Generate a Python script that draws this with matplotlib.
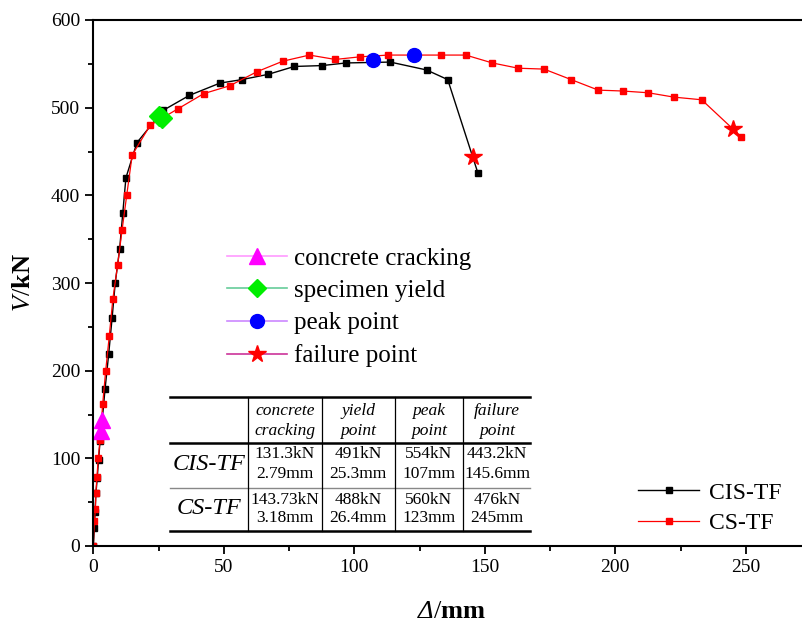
import matplotlib.pyplot as plt
from matplotlib.lines import Line2D

plt.rcParams['font.family'] = ['Liberation Serif', 'DejaVu Serif']
plt.rcParams['mathtext.fontset'] = 'custom'
plt.rcParams['mathtext.rm'] = 'Liberation Serif'
plt.rcParams['mathtext.it'] = 'Liberation Serif:italic'
plt.rcParams['mathtext.bf'] = 'Liberation Serif:bold'

# skeleton curves (displacement mm, load kN)
cis_x = [0, 0.4, 0.65, 1.0, 1.5, 2.0, 2.6, 3.3, 4.5, 5.9, 7.2, 8.4, 10.1, 11.3, 12.5,
         16.7, 26.8, 36.8, 48.5, 56.9, 67.0, 77.0, 87.6, 96.8, 113.8, 127.7, 135.8, 147.3]
cis_v = [0, 20, 39, 60, 77, 98, 120, 140, 179, 219, 260, 300, 339, 380, 420,
         460, 497, 514, 528, 532, 538, 547, 548, 551, 552, 543, 532, 426]
cs_x = [0, 0.4, 0.8, 1.0, 1.4, 1.9, 2.6, 3.6, 4.75, 6.1, 7.5, 9.3, 11.0, 12.8, 14.9,
        21.8, 32.6, 42.3, 52.3, 62.7, 72.6, 82.8, 92.7, 102.2, 113.0, 133.1, 142.7,
        152.9, 162.8, 172.7, 183.1, 193.5, 202.8, 212.6, 222.5, 233.1, 248.2]
cs_v = [0, 28, 42, 61, 79, 100, 121, 162, 200, 239, 282, 320, 360, 400, 446,
        480, 499, 516, 525, 541, 553, 560, 555, 558, 560, 560, 560,
        551, 545, 544, 532, 520, 519, 517, 512, 509, 467]

# characteristic points
crack_x = [2.79, 3.18]
crack_v = [131.3, 143.73]
yield_x = [25.3, 26.4]
yield_v = [491, 488]
peak_x = [107, 123]
peak_v = [554, 560]
fail_x = [145.6, 245]
fail_v = [443.2, 476]

# table contents
col_heads = ["concrete\ncracking", "yield\npoint", "peak\npoint", "failure\npoint"]
row_heads = ["CIS-TF", "CS-TF"]
cells = [["131.3kN\n2.79mm", "491kN\n25.3mm", "554kN\n107mm", "443.2kN\n145.6mm"],
         ["143.73kN\n3.18mm", "488kN\n26.4mm", "560kN\n123mm", "476kN\n245mm"]]

W, H = 803, 631
fig = plt.figure(figsize=(W / 100, H / 100), dpi=100)
ax = fig.add_axes([93.3 / W, 85 / H, 280 * 2.61 / W, 526 / H])

ax.plot(cis_x, cis_v, color='black', lw=1, marker='s', ms=5, label='CIS-TF')
ax.plot(cs_x, cs_v, color='red', lw=0.9, marker='s', ms=5, label='CS-TF')

ax.plot(crack_x, crack_v, ls='none', marker='^', ms=11, color='#ff00ff')
ax.plot(yield_x, yield_v, ls='none', marker='D', ms=10, color='#00ee00')
ax.plot(peak_x, peak_v, ls='none', marker='o', ms=10, color='#0000ff')
ax.plot(fail_x, fail_v, ls='none', marker='*', ms=13, color='#ff0000')

ax.set_xlim(0, 280)
ax.set_ylim(0, 600)
ax.set_xticks([0, 50, 100, 150, 200, 250])
ax.set_xticks([25, 75, 125, 175, 225, 275], minor=True)
ax.set_yticks([0, 100, 200, 300, 400, 500, 600])
ax.set_yticks([50, 150, 250, 350, 450, 550], minor=True)
ax.tick_params(which='major', direction='out', length=6, width=1.3, labelsize=14)
ax.tick_params(which='minor', direction='out', length=3.5, width=1.3)
ax.tick_params(top=False, right=False)
for s in ['left', 'bottom', 'top']:
    ax.spines[s].set_linewidth(1.5)
ax.spines['right'].set_visible(False)

# x label: italic Delta, then "/" and bold "mm"
d = fig.text(418 / W, 1 - 618 / H, 'Δ', fontsize=19, style='italic', va='baseline')
ax.annotate(r'/$\mathbf{mm}$', xy=(1, 0), xycoords=d, fontsize=19,
            ha='left', va='bottom', annotation_clip=False)
ax.set_ylabel(r'$\mathit{V}/\mathbf{kN}$', fontsize=19)
ax.yaxis.set_label_coords(-0.08, 0.5)

# legend of the characteristic points
kh = [Line2D([], [], color='#ff99ff', lw=1.2, marker='^', ms=11, mfc='#ff00ff', mec='#ff00ff'),
      Line2D([], [], color='#66cc99', lw=1.2, marker='D', ms=9, mfc='#00ee00', mec='#00ee00'),
      Line2D([], [], color='#cc88ff', lw=1.2, marker='o', ms=10, mfc='#0000ff', mec='#0000ff'),
      Line2D([], [], color='#cc3399', lw=1.2, marker='*', ms=13, mfc='#ff0000', mec='#ff0000')]
fig.legend(kh, ['concrete cracking', 'specimen yield', 'peak point', 'failure point'],
           loc='upper left', bbox_to_anchor=(227 / W, 1 - 247 / H), frameon=False,
           fontsize=18, handlelength=2.4, handletextpad=0.3, labelspacing=0.4,
           borderpad=0, borderaxespad=0)

fig.legend(loc='upper left', bbox_to_anchor=(638 / W, 1 - 482 / H), frameon=False,
           fontsize=17, handlelength=2.6, handletextpad=0.4, labelspacing=0.38,
           borderpad=0, borderaxespad=0, handles=ax.get_lines()[:2])


# table drawn in pixel coordinates
def fx(px):
    return px / W


def fy(py):
    return 1 - py / H


x0, x1 = 170, 530
for yy, lw, c in [(397, 1.8, 'black'), (443, 1.8, 'black'), (488, 1.0, '#888888'), (531, 1.8, 'black')]:
    fig.add_artist(Line2D([fx(x0), fx(x1)], [fy(yy), fy(yy)], lw=lw, color=c))
vlines = [248, 322, 395, 463]
for vx in vlines:
    fig.add_artist(Line2D([fx(vx), fx(vx)], [fy(397), fy(531)], lw=0.9, color='black'))

col_cx = [285, 358, 429, 497]
for cx, t in zip(col_cx, col_heads):
    fig.text(fx(cx), fy(421), t, ha='center', va='center', fontsize=12.5,
             style='italic', linespacing=1.3)
row_cy = [464, 509]
for cy, rh, row in zip(row_cy, row_heads, cells):
    fig.text(fx(209), fy(cy), rh, ha='center', va='center', fontsize=17.5, style='italic')
    for cx, t in zip(col_cx, row):
        fig.text(fx(cx), fy(cy), t, ha='center', va='center', fontsize=12.5, linespacing=1.25)

fig.savefig('out.png', dpi=100)
